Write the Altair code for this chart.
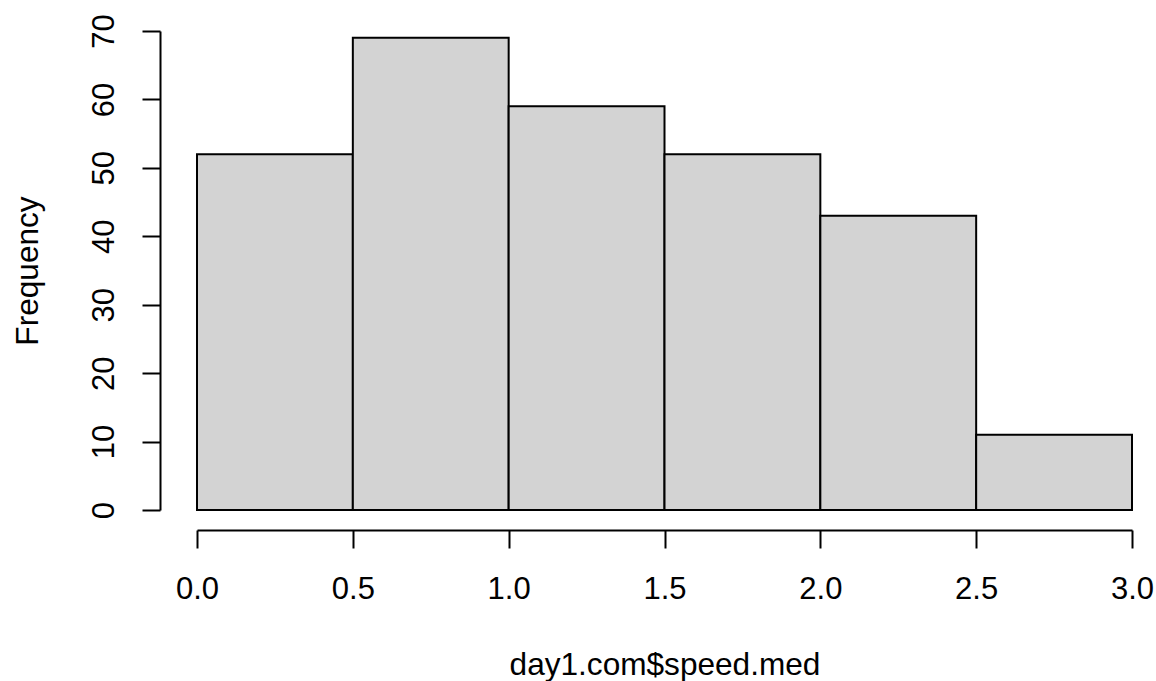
import altair as alt
import pandas as pd

bin_start = [0.0, 0.5, 1.0, 1.5, 2.0, 2.5]
bin_end = [0.5, 1.0, 1.5, 2.0, 2.5, 3.0]
counts = [52, 69, 59, 52, 43, 11]
x_ticks = [0.0, 0.5, 1.0, 1.5, 2.0, 2.5, 3.0]
y_ticks = [0, 10, 20, 30, 40, 50, 60, 70]

df = pd.DataFrame({"start": bin_start, "end": bin_end, "count": counts})

FONT = "Liberation Sans"
FS = 31
TFS = 31.6

chart = alt.Chart(df).mark_rect(
    fill="#D3D3D3", stroke="black", strokeWidth=2
).encode(
    x=alt.X("start:Q",
            scale=alt.Scale(domain=[0, 3], nice=False, zero=False),
            axis=alt.Axis(values=x_ticks, format=".1f", title="day1.com$speed.med",
                          offset=20, tickSize=18, tickWidth=2, domainWidth=2,
                          domainColor="black", tickColor="black",
                          labelFont=FONT, labelFontSize=FS, labelColor="black",
                          labelPadding=26, labelFlush=False, labelOverlap=False,
                          titleFont=FONT, titleFontSize=TFS, titleFontWeight="normal",
                          titleColor="black", titlePadding=45, grid=False)),
    x2="end:Q",
    y=alt.Y("count:Q",
            scale=alt.Scale(domain=[0, 70], nice=False),
            axis=alt.Axis(values=y_ticks, title="Frequency",
                          offset=37, tickSize=18, tickWidth=2, domainWidth=2,
                          domainColor="black", tickColor="black",
                          labelFont=FONT, labelFontSize=FS, labelColor="black",
                          labelAngle=270, labelAlign="center", labelBaseline="bottom",
                          labelPadding=22, labelFlush=False, labelOverlap=False,
                          titleFont=FONT, titleFontSize=TFS, titleFontWeight="normal",
                          titleColor="black", titlePadding=44, grid=False)),
    y2=alt.datum(0),
).properties(
    width=935, height=479,
    background="white",
    autosize=alt.AutoSizeParams(type="none"),
    padding={"left": 197, "top": 31, "right": 24, "bottom": 171},
).configure_view(strokeWidth=0, stroke="transparent")

chart.save("out.html", embed_options={"renderer": "svg", "actions": False})
